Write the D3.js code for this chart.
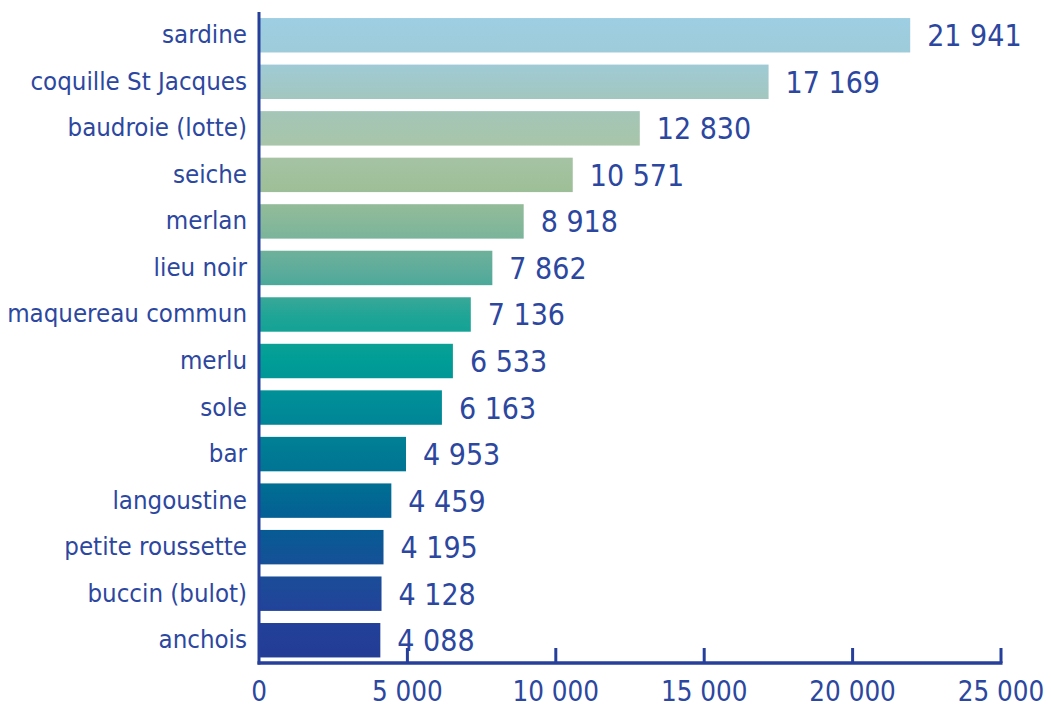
<!DOCTYPE html>
<html>
<head>
<meta charset="utf-8">
<script src="https://cdn.jsdelivr.net/npm/d3@7"></script>
<style>
  body { margin: 0; background: #fff; }
  svg text { font-family: "DejaVu Sans Condensed", "DejaVu Sans", sans-serif; font-stretch: condensed; fill: #2c47a0; }
</style>
</head>
<body>
<div id="chart"></div>
<script>
// Data
var species = ["sardine", "coquille St Jacques", "baudroie (lotte)", "seiche", "merlan", "lieu noir",
  "maquereau commun", "merlu", "sole", "bar", "langoustine", "petite roussette", "buccin (bulot)", "anchois"];
var tonnes = [21941, 17169, 12830, 10571, 8918, 7862, 7136, 6533, 6163, 4953, 4459, 4195, 4128, 4088];
var tickValues = [0, 5000, 10000, 15000, 20000, 25000];

// colour ramp running down the whole chart
var rampColors = ["#9dcee2", "#9fcbd8", "#a3c6bc", "#a8c5a8", "#9ebf98", "#80b69a", "#5aab9b",
  "#1ea596", "#009e96", "#008d98", "#007e95", "#006d93", "#065b94", "#1a4e98", "#22429a", "#233c96"];

var svgWidth = 1051;
var svgHeight = 705;

var svg = d3.select("#chart")
  .append("svg")
  .attr("width", svgWidth)
  .attr("height", svgHeight);

var x = d3.scaleLinear()
  .domain([0, 25000])
  .range([259, 1001]);

var y = d3.scaleBand()
  .domain(species)
  .range([12, 663.5])
  .paddingInner(0.26)
  .paddingOuter(0.13);

var fmt = function(v) {
  return d3.format(",")(v).replace(/,/g, " ");
};

// one gradient shared by every bar
var grad = svg.append("defs").append("linearGradient")
  .attr("id", "ramp")
  .attr("gradientUnits", "userSpaceOnUse")
  .attr("x1", 0).attr("x2", 0)
  .attr("y1", y(species[0]))
  .attr("y2", y(species[species.length - 1]) + y.bandwidth());

grad.selectAll("stop")
  .data(rampColors)
  .enter()
  .append("stop")
  .attr("offset", (d, i) => i / (rampColors.length - 1))
  .attr("stop-color", d => d);

// bars
svg.selectAll("rect.bar")
  .data(species)
  .enter()
  .append("rect")
  .attr("class", "bar")
  .attr("x", x(0))
  .attr("y", d => y(d))
  .attr("width", (d, i) => x(tonnes[i]) - x(0))
  .attr("height", y.bandwidth())
  .attr("fill", "url(#ramp)");

// value labels
svg.selectAll("text.value")
  .data(species)
  .enter()
  .append("text")
  .attr("class", "value")
  .attr("x", (d, i) => x(tonnes[i]) + 17)
  .attr("y", d => y(d) + y.bandwidth() / 2 + 11)
  .attr("font-size", "30px")
  .text((d, i) => fmt(tonnes[i]));

// category labels
svg.selectAll("text.cat")
  .data(species)
  .enter()
  .append("text")
  .attr("class", "cat")
  .attr("x", 247)
  .attr("y", d => y(d) + y.bandwidth() / 2 + 8)
  .attr("text-anchor", "end")
  .attr("font-size", "25.6px")
  .text(d => d);

// axes
var axisColor = "#263f9a";
svg.append("line")
  .attr("x1", x(0)).attr("x2", x(0))
  .attr("y1", 12).attr("y2", 664.5)
  .attr("stroke", axisColor)
  .attr("stroke-width", 3);

svg.append("line")
  .attr("x1", x(0) - 1.5).attr("x2", x(25000) + 1.5)
  .attr("y1", 663).attr("y2", 663)
  .attr("stroke", axisColor)
  .attr("stroke-width", 3.5);

svg.selectAll("line.tick")
  .data(tickValues.slice(1))
  .enter()
  .append("line")
  .attr("class", "tick")
  .attr("x1", d => x(d)).attr("x2", d => x(d))
  .attr("y1", 648).attr("y2", 663)
  .attr("stroke", axisColor)
  .attr("stroke-width", 3);

svg.selectAll("text.tickLabel")
  .data(tickValues)
  .enter()
  .append("text")
  .attr("class", "tickLabel")
  .attr("x", d => x(d))
  .attr("y", 701)
  .attr("text-anchor", "middle")
  .attr("font-size", "27.5px")
  .text(d => fmt(d));
</script>
</body>
</html>
